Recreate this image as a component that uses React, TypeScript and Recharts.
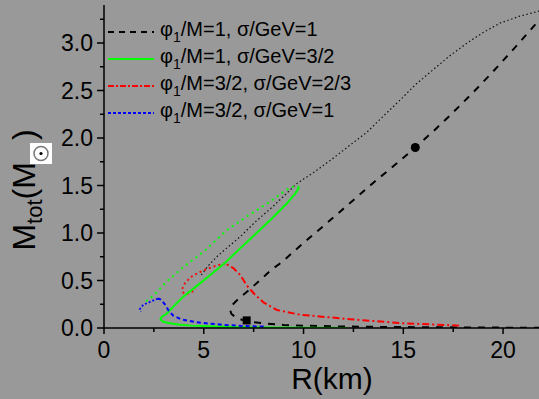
import { ComposedChart, Line, Scatter, XAxis, YAxis, Legend } from 'recharts';

// branches, [R in km, M in solar masses]
const blackStable = [
  [22.6, 0.003], [20, 0.004], [17, 0.007], [14, 0.011], [12, 0.016], [10, 0.024], [9, 0.032],
  [8.2, 0.045], [7.5, 0.06], [7.0, 0.08], [6.6, 0.11], [6.38, 0.15], [6.32, 0.19], [6.42, 0.24],
  [6.65, 0.29], [7.27, 0.4], [7.8, 0.5], [8.37, 0.61], [8.96, 0.7], [9.48, 0.8], [10.3, 0.95],
  [11.2, 1.11], [12.3, 1.31], [13.5, 1.53], [14.6, 1.72], [15.6, 1.9], [16.5, 2.07], [17.4, 2.25],
  [18.5, 2.48], [19.5, 2.7], [20.5, 2.93], [21.3, 3.12], [21.8, 3.24], [22.2, 3.33], [22.4, 3.37],
];
const blackUnstable = [
  [22.4, 3.37], [21.7, 3.33], [20.8, 3.28], [19.85, 3.21], [19, 3.11], [18.2, 3.0], [17.3, 2.86],
  [16.5, 2.72], [15.6, 2.56], [14.84, 2.4], [14, 2.23], [13.17, 2.06], [12.3, 1.92], [11.5, 1.79],
  [10.6, 1.65], [9.66, 1.52], [8.47, 1.28], [7.6, 1.12], [6.82, 0.96], [6.2, 0.85], [5.65, 0.75],
  [5.2, 0.65], [4.81, 0.54],
];
const greenStable = [
  [12.2, 0.0], [10, 0.002], [8, 0.005], [6.5, 0.01], [5.3, 0.018], [4.4, 0.025], [3.81, 0.035],
  [3.3, 0.05], [2.98, 0.065], [2.83, 0.09], [2.9, 0.12], [3.14, 0.15], [3.5, 0.23], [3.97, 0.33],
  [4.81, 0.47], [5.31, 0.555], [5.98, 0.67], [6.73, 0.82], [7.65, 1.0], [8.4, 1.15], [9.16, 1.31],
  [9.6, 1.42], [9.78, 1.48],
];
const greenUnstable = [
  [9.78, 1.48], [9.6, 1.5], [9.1, 1.45], [8.32, 1.33], [7.2, 1.18], [6.15, 1.03], [4.98, 0.8],
  [3.97, 0.64], [3.2, 0.5], [2.47, 0.34], [2.1, 0.28],
];
const redStable = [
  [17.8, 0.025], [15, 0.05], [12.5, 0.09], [11.16, 0.115], [9.82, 0.14], [8.66, 0.19], [7.99, 0.27],
  [7.57, 0.35], [7.15, 0.45], [6.82, 0.56], [6.48, 0.63], [6.07, 0.68],
];
const redUnstable = [
  [6.07, 0.68], [5.6, 0.655], [5.15, 0.62], [4.7, 0.58], [4.31, 0.53], [4.05, 0.47], [3.92, 0.41],
  [3.98, 0.37], [4.15, 0.355], [4.4, 0.38], [4.6, 0.41],
];
const blueStable = [
  [8.0, 0.015], [7.15, 0.02], [6.2, 0.03], [5.31, 0.045], [4.65, 0.06], [3.89, 0.09], [3.47, 0.13],
  [3.25, 0.18], [3.05, 0.25], [2.85, 0.3], [2.7, 0.31],
];
const blueUnstable = [[2.7, 0.31], [2.31, 0.275], [1.97, 0.245], [1.8, 0.2], [1.85, 0.17]];
const squareMark = [[7.15, 0.08]];
const circleMark = [[15.6, 1.9]];

const legendLabels = [
  ['1', '1'],
  ['1', '3/2'],
  ['3/2', '2/3'],
  ['3/2', '1'],
];
const legendColors = ['#000000', '#00ff00', '#ff0000', '#0000ff'];
const legendDashes = ['6 5', '', '6 2 2 2', '3 2'];

const xTicks = [0, 2.5, 5, 7.5, 10, 12.5, 15, 17.5, 20];
const yTicks = [0, 0.25, 0.5, 0.75, 1, 1.25, 1.5, 1.75, 2, 2.25, 2.5, 2.75, 3, 3.25];

const pts = (pairs: number[][]) => pairs.map(([x, y]) => ({ x, y }));
const FONT = '"Liberation Sans", Arial, sans-serif';

const YTick = ({ x, y, payload }: any) => {
  const v = payload.value;
  const major = Math.abs(v * 2 - Math.round(v * 2)) < 1e-6;
  return (
    <g>
      <line x1={x} x2={x - (major ? 7 : 4)} y1={y} y2={y} stroke="#000" strokeWidth={1.5} />
      {major && (
        <text x={x - 11} y={y} dy="0.36em" textAnchor="end" fontSize={23} fontFamily={FONT} fill="#000">
          {v.toFixed(1)}
        </text>
      )}
    </g>
  );
};

const XTick = ({ x, y, payload }: any) => {
  const v = payload.value;
  const major = v % 5 === 0;
  return (
    <g>
      <line x1={x} x2={x} y1={y} y2={y + (major ? 6 : 4)} stroke="#000" strokeWidth={1.5} />
      {major && (
        <text x={x} y={y + 30} textAnchor="middle" fontSize={23} fontFamily={FONT} fill="#000">
          {v}
        </text>
      )}
    </g>
  );
};

const XLabel = () => (
  <text x={332} y={389} textAnchor="middle" fontSize={30} fontFamily={FONT} fill="#000">
    R(km)
  </text>
);

const YLabel = () => (
  <g>
    <text transform="translate(35,190) rotate(-90)" textAnchor="middle" fontSize={32} fontFamily={FONT} fill="#000">
      M<tspan fontSize={22} dy={7}>tot</tspan>
      <tspan dy={-7}>(M</tspan>
      <tspan dx={22}>)</tspan>
    </text>
    <rect x={30} y={143} width={22} height={21} fill="#ffffff" />
    <circle cx={41} cy={153.5} r={7} fill="none" stroke="#777" strokeWidth={1.5} />
    <circle cx={41} cy={153.5} r={1.6} fill="#000" />
  </g>
);

const LegendBox = () => (
  <div style={{ fontFamily: FONT, fontSize: 20, color: '#000' }}>
    {legendLabels.map(([phi, sigma], i) => (
      <div key={i} style={{ display: 'flex', alignItems: 'center', height: 27 }}>
        <svg width={46} height={10} style={{ marginRight: 6 }}>
          <line x1={0} x2={46} y1={5} y2={5} stroke={legendColors[i]} strokeWidth={2}
            strokeDasharray={legendDashes[i] || undefined} />
        </svg>
        <span style={{ whiteSpace: 'nowrap' }}>
          φ<sub style={{ fontSize: 14, verticalAlign: -6 }}>1</sub>/M={phi}, σ/GeV={sigma}
        </span>
      </div>
    ))}
  </div>
);

export default function App() {
  return (
    <div style={{ width: 539, height: 399, background: '#999999' }}>
      <style>{'body{margin:0;background:#999999;}'}</style>
      <ComposedChart width={539} height={399} margin={{ top: 5, right: 0, left: 44, bottom: 41 }}>
        <XAxis
          type="number"
          dataKey="x"
          domain={[0, 21.8]}
          allowDataOverflow
          ticks={xTicks}
          interval={0}
          tick={<XTick />}
          tickLine={false}
          tickSize={0}
          tickMargin={0}
          height={30}
          axisLine={{ stroke: '#000', strokeWidth: 1.5 }}
          label={<XLabel />}
        />
        <YAxis
          type="number"
          dataKey="y"
          domain={[0, 3.4]}
          allowDataOverflow
          ticks={yTicks}
          interval={0}
          tick={<YTick />}
          tickLine={false}
          tickSize={0}
          tickMargin={0}
          width={60}
          axisLine={{ stroke: '#000', strokeWidth: 1.5 }}
          label={<YLabel />}
        />
        <Legend
          layout="vertical"
          align="center"
          verticalAlign="middle"
          wrapperStyle={{ left: 108, top: 18, width: 300 }}
          content={() => <LegendBox />}
        />
        <Line data={pts(blackUnstable)} dataKey="y" type="linear" stroke="#111" strokeWidth={1.2}
          strokeDasharray="1.5 2.5" dot={false} activeDot={false} isAnimationActive={false} />
        <Line data={pts(greenUnstable)} dataKey="y" type="linear" stroke="#00ff00" strokeWidth={2}
          strokeDasharray="2 4" dot={false} activeDot={false} isAnimationActive={false} />
        <Line data={pts(redUnstable)} dataKey="y" type="linear" stroke="#ff0000" strokeWidth={1.8}
          strokeDasharray="2 3" dot={false} activeDot={false} isAnimationActive={false} />
        <Line data={pts(blueUnstable)} dataKey="y" type="linear" stroke="#0000ff" strokeWidth={1.8}
          strokeDasharray="2 2" dot={false} activeDot={false} isAnimationActive={false} />
        <Line data={pts(blackStable)} dataKey="y" type="linear" stroke="#000" strokeWidth={2}
          strokeDasharray="7 7" dot={false} activeDot={false} isAnimationActive={false} />
        <Line data={pts(greenStable)} dataKey="y" type="linear" stroke="#00ff00" strokeWidth={2}
          dot={false} activeDot={false} isAnimationActive={false} />
        <Line data={pts(redStable)} dataKey="y" type="linear" stroke="#ff0000" strokeWidth={2}
          strokeDasharray="7 3 2 3" dot={false} activeDot={false} isAnimationActive={false} />
        <Line data={pts(blueStable)} dataKey="y" type="linear" stroke="#0000ff" strokeWidth={2}
          strokeDasharray="4 3" dot={false} activeDot={false} isAnimationActive={false} />
        <Scatter data={pts(squareMark)} shape="square" fill="#000" isAnimationActive={false} size={90} />
        <Scatter data={pts(circleMark)} shape="circle" fill="#000" isAnimationActive={false} size={85} />
      </ComposedChart>
    </div>
  );
}
